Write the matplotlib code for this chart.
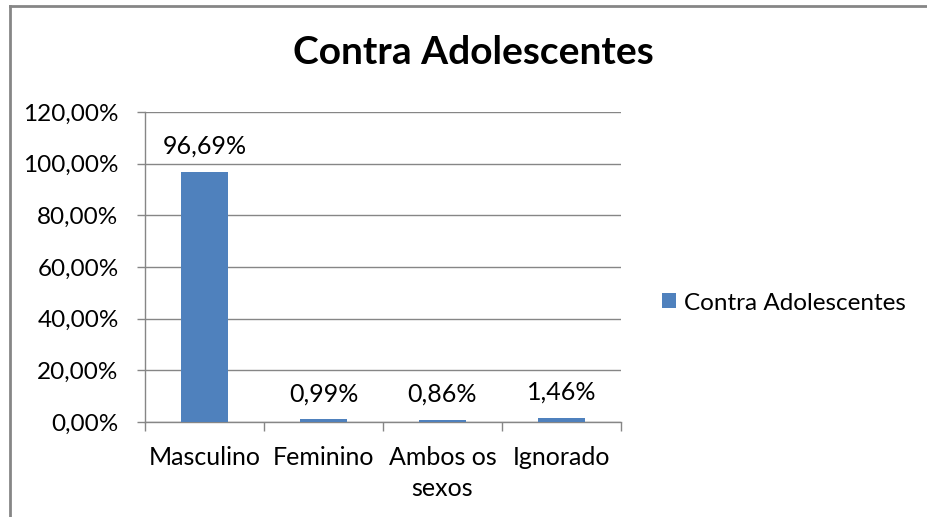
import matplotlib
matplotlib.use("Agg")
import matplotlib.pyplot as plt
from matplotlib.lines import Line2D
from matplotlib.ticker import FuncFormatter, MultipleLocator
import numpy as np

categories = ["Masculino", "Feminino", "Ambos os\nsexos", "Ignorado"]
values = [96.69, 0.99, 0.86, 1.46]
labels = ["96,69%", "0,99%", "0,86%", "1,46%"]
series_name = "Contra Adolescentes"
title = "Contra Adolescentes"

plt.rcParams['font.family'] = ['Lato', 'DejaVu Sans']
W, H = 927, 517
fig = plt.figure(figsize=(W / 100, H / 100), dpi=100)
ax = fig.add_axes([145 / W, 1 - 422 / H, (621 - 145) / W, (422 - 112) / H])

gray = "#868686"
color = "#4F81BD"
fs = 18
x = np.arange(len(categories))
bars = ax.bar(x, values, width=0.4, color=color, label=series_name, zorder=3)
for xi, v, lab in zip(x, values, labels):
    ax.annotate(lab, (xi, v), xytext=(0, 18.5), textcoords="offset points",
                ha="center", va="center", fontsize=fs, color="black")

ax.set_xlim(-0.5, len(categories) - 0.5)
ax.set_ylim(0, 120)
ax.yaxis.set_major_locator(MultipleLocator(20))
ax.yaxis.set_major_formatter(FuncFormatter(lambda v, p: f"{v:.2f}%".replace(".", ",")))
ax.grid(axis="y", color=gray, linewidth=1, zorder=0)
ax.set_xticks(x)
ax.set_xticklabels(categories, fontsize=fs, linespacing=1.4)
ax.set_xticks(np.arange(len(categories) + 1) - 0.5, minor=True)
ax.tick_params(axis="x", which="major", length=0, pad=17.5)
ax.tick_params(axis="x", which="minor", length=6.5, color=gray, width=1)
ax.tick_params(axis="y", length=6, color=gray, width=1, labelsize=17.5, pad=13)
for s in ["top", "right"]:
    ax.spines[s].set_visible(False)
for s in ["left", "bottom"]:
    ax.spines[s].set_color(gray)
    ax.spines[s].set_linewidth(1)

fig.text(473 / W, 1 - 52 / H, title, ha="center", va="center", fontsize=28, fontweight="bold")

fig.legend(handles=[bars], labels=[series_name], loc="center left",
           bbox_to_anchor=(650 / W, 1 - 303 / H), frameon=False, fontsize=17.5,
           handlelength=0.58, handleheight=0.58, handletextpad=0.3, borderpad=0)

fig.add_artist(Line2D([9.5 / W, 9.5 / W], [0, 1 - 5.5 / H], color=gray, linewidth=2, transform=fig.transFigure))
fig.add_artist(Line2D([9.5 / W, 1], [1 - 5.5 / H, 1 - 5.5 / H], color=gray, linewidth=2, transform=fig.transFigure))

fig.savefig("out.png", dpi=100)
